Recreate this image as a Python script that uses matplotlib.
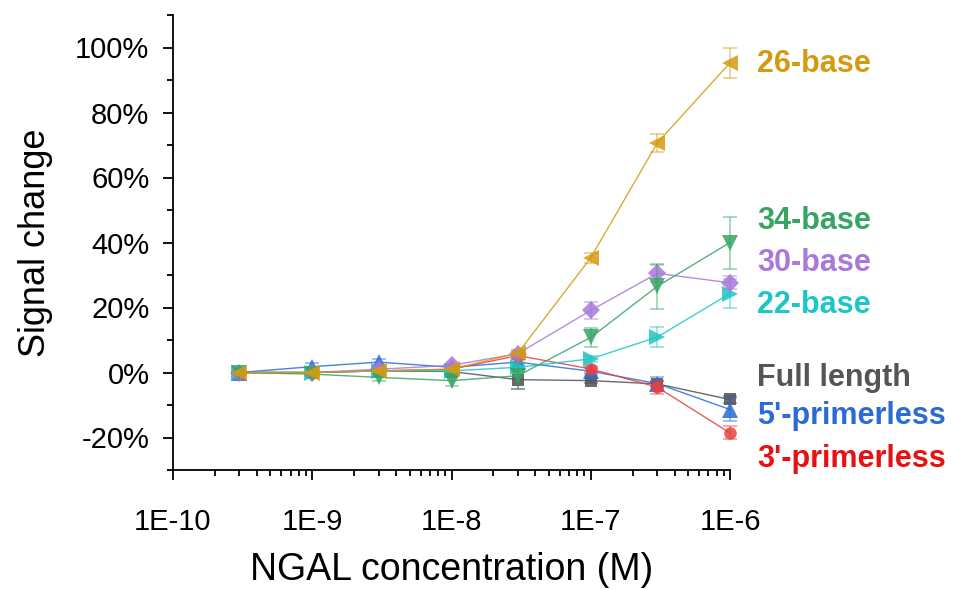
import matplotlib
matplotlib.use("Agg")
import matplotlib.pyplot as plt
import numpy as np
from matplotlib.ticker import FixedLocator, LogLocator, NullFormatter, FuncFormatter

plt.rcParams["font.family"] = ["Liberation Sans", "DejaVu Sans"]

conc = [3e-10, 1e-9, 3e-9, 1e-8, 3e-8, 1e-7, 3e-7, 1e-6]

names = ["Full length", "5'-primerless", "3'-primerless",
         "22-base", "30-base", "34-base", "26-base"]

full_length = [0, 0, 0.5, 0.3, -2.2, -2.5, -3.5, -8.3]
full_length_err = [0.5, 0.5, 0.5, 0.5, 3.0, 0.8, 1.0, 1.0]
primerless_5 = [0, 1.8, 3.2, 1.6, 3.2, 0.4, -3.4, -11.4]
primerless_5_err = [0.5, 1.0, 1.0, 0.8, 1.0, 1.0, 2.0, 3.5]
primerless_3 = [0, 0, 0.5, 1.0, 5.2, 1.1, -4.5, -18.6]
primerless_3_err = [0.5, 0.5, 0.5, 0.5, 1.0, 1.0, 2.0, 2.0]
base_22 = [0, 0, 0.5, 0.5, 1.6, 4.2, 10.9, 24.3]
base_22_err = [0.5, 0.5, 0.5, 0.5, 1.5, 1.0, 3.0, 4.5]
base_30 = [0, 0, 1.0, 2.2, 5.8, 19.1, 30.5, 27.6]
base_30_err = [0.5, 0.5, 0.5, 0.5, 1.0, 2.5, 2.5, 2.0]
base_34 = [0, -0.5, -1.5, -2.5, -1.0, 10.8, 26.5, 40.0]
base_34_err = [0.5, 0.5, 1.0, 1.5, 4.0, 3.0, 7.0, 8.0]
base_26 = [0, 0, 0.5, 1.0, 6.0, 35.3, 70.6, 95.3]
base_26_err = [0.5, 0.5, 0.5, 0.5, 1.0, 1.5, 2.8, 4.7]

series = [
    (full_length, full_length_err, "#505050", "s", "#555555", 378),
    (primerless_5, primerless_5_err, "#2a6bd6", "^", "#2a6bd6", 416),
    (primerless_3, primerless_3_err, "#e8403c", "o", "#e81010", 459),
    (base_22, base_22_err, "#1cc6c6", ">", "#1cc6c6", 305),
    (base_30, base_30_err, "#a878dc", "D", "#a878dc", 263),
    (base_34, base_34_err, "#36a564", "v", "#36a564", 221),
    (base_26, base_26_err, "#d49b10", "<", "#d49b10", 64),
]

W, H = 957, 589
fig = plt.figure(figsize=(W / 100, H / 100), dpi=100)
ax = fig.add_axes([173 / W, 1 - 470 / H, (730 - 173) / W, (470 - 15) / H])

for (vals, errs, col, mk, tcol, ty), name in zip(series, names):
    ms = 9 if mk in ("D", "o", "s") else 11
    eb = ax.errorbar(conc, vals, yerr=errs, fmt="none", ecolor=col,
                     elinewidth=1.2, capsize=5, capthick=1.2, alpha=0.5)
    for part in eb.lines[1] + eb.lines[2]:
        part.set_clip_on(False)
    ax.plot(conc, vals, color=col, marker=mk, markersize=ms, linewidth=1.0,
            markeredgewidth=0, alpha=0.85, clip_on=False)
    fig.text(757 / W, 1 - ty / H, name, color=tcol, fontsize=22,
             fontweight="bold", va="center", ha="left")

ax.set_xscale("log")
ax.set_xlim(1e-10, 1e-6)
ax.set_ylim(-30, 110)

ax.xaxis.set_major_locator(FixedLocator([1e-10, 1e-9, 1e-8, 1e-7, 1e-6]))
ax.xaxis.set_minor_locator(LogLocator(base=10, subs=np.arange(2, 10)))
ax.xaxis.set_minor_formatter(NullFormatter())
ax.xaxis.set_major_formatter(FuncFormatter(lambda v, p: "1E%d" % round(np.log10(v))))

ax.yaxis.set_major_locator(FixedLocator(np.arange(-20, 101, 20)))
ax.yaxis.set_minor_locator(FixedLocator(np.arange(-30, 111, 10)))
ax.yaxis.set_major_formatter(FuncFormatter(lambda v, p: "%d%%" % v))

for s in ["top", "right"]:
    ax.spines[s].set_visible(False)
for s in ["left", "bottom"]:
    ax.spines[s].set_linewidth(1.3)

ax.tick_params(which="major", direction="out", length=7, width=1.3,
               labelsize=21, pad=10)
ax.tick_params(which="minor", direction="out", length=4, width=1.3)
ax.tick_params(axis="x", which="major", pad=20)

ax.set_xlabel("NGAL concentration (M)", fontsize=27, labelpad=12)
ax.set_ylabel("Signal change", fontsize=26, labelpad=16)

fig.savefig("out.png", dpi=100)
